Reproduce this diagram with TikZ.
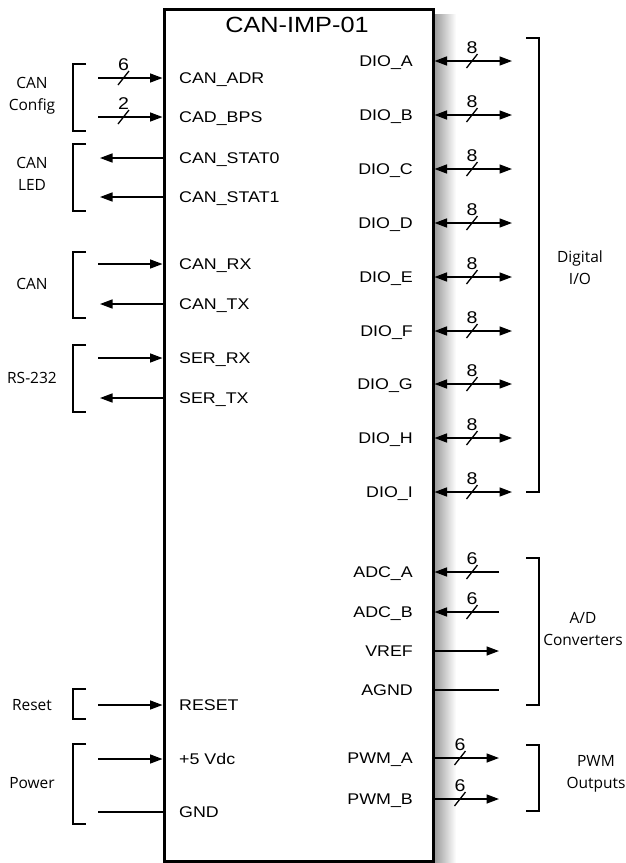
\documentclass[tikz,border=0pt]{standalone}
\usepackage{fontspec}
\setmainfont{Liberation Sans}
\newfontfamily\pinfont{Liberation Sans}[FakeStretch=1.15]
\newfontfamily\grpfont{Open Sans}
\usetikzlibrary{arrows.meta,calc}
\tikzset{
  pin/.style={font=\pinfont\fontsize{15.5}{18}\selectfont, inner sep=0pt},
  grp/.style={font=\grpfont\fontsize{15.5}{22}\selectfont, inner sep=0pt, align=center},
  num/.style={font=\pinfont\fontsize{17}{18}\selectfont, inner sep=0pt, anchor=base},
  sig/.style={line width=1.5pt},
  tip/.style={-{Triangle[length=12.5pt,width=9pt]}},
  btip/.style={{Triangle[length=12.5pt,width=9pt]}-{Triangle[length=12.5pt,width=9pt]}},
  brk/.style={line width=1.3pt},
  slash/.style={line width=1.3pt}
}
\newcommand\busslash[3]{% name, x offset, label
  \draw[slash] ($(#1)+(#2-5.5,7)$) -- ($(#1)+(#2+5.5,-7)$);
  \node[num] (#1n) at ($(#1)+(#2,-8)$) {#3};
}
\begin{document}
\begin{tikzpicture}[x=1pt,y=-1pt]
\useasboundingbox (0,0) rectangle (626,863);
% shadow
\shade[left color=black!40, right color=white] (434,14) rectangle (456,863);
% box
\node[draw, line width=3pt, minimum width=269pt, minimum height=852pt, inner sep=0pt, fill=white] (box) at (298.5,435) {};
\node[font=\pinfont\fontsize{22}{24}\selectfont, inner sep=0pt, anchor=base] (title) at (297,32.5) {CAN-IMP-01};

% ---------- left side ----------
\coordinate (adr) at (98,78);
\coordinate (bps) at (98,117);
\coordinate (st0) at (100,158);
\coordinate (st1) at (100,197);
\coordinate (crx) at (98,264);
\coordinate (ctx) at (100,304);
\coordinate (srx) at (98,358);
\coordinate (stx) at (100,398);
\coordinate (rst) at (98,705);
\coordinate (vcc) at (98,759);
\coordinate (gnd) at (98,812);

\draw[sig,tip] (adr) -- (adr -| box.west);
\draw[sig,tip] (bps) -- (bps -| box.west);
\draw[sig,tip] (st0 -| box.west) -- (st0);
\draw[sig,tip] (st1 -| box.west) -- (st1);
\draw[sig,tip] (crx) -- (crx -| box.west);
\draw[sig,tip] (ctx -| box.west) -- (ctx);
\draw[sig,tip] (srx) -- (srx -| box.west);
\draw[sig,tip] (stx -| box.west) -- (stx);
\draw[sig,tip] (rst) -- (rst -| box.west);
\draw[sig,tip] (vcc) -- (vcc -| box.west);
\draw[sig] (gnd) -- (gnd -| box.west);

\busslash{adr}{25.5}{6}
\busslash{bps}{25.5}{2}

\node[pin, anchor=base west] (Ladr) at ($(adr)+(81,5.5)$) {CAN\_ADR};
\node[pin, anchor=base west] (Lbps) at ($(bps)+(81,5.5)$) {CAD\_BPS};
\node[pin, anchor=base west] (Lst0) at ($(st0)+(79,5.5)$) {CAN\_STAT0};
\node[pin, anchor=base west] (Lst1) at ($(st1)+(79,5.5)$) {CAN\_STAT1};
\node[pin, anchor=base west] (Lcrx) at ($(crx)+(81,5.5)$) {CAN\_RX};
\node[pin, anchor=base west] (Lctx) at ($(ctx)+(79,5.5)$) {CAN\_TX};
\node[pin, anchor=base west] (Lsrx) at ($(srx)+(81,5.5)$) {SER\_RX};
\node[pin, anchor=base west] (Lstx) at ($(stx)+(79,5.5)$) {SER\_TX};
\node[pin, anchor=base west] (Lrst) at ($(rst)+(81,5.5)$) {RESET};
\node[pin, anchor=base west] (Lvcc) at ($(vcc)+(81,5.5)$) {+5 Vdc};
\node[pin, anchor=base west] (Lgnd) at ($(gnd)+(81,5.5)$) {GND};

% left brackets
\draw[brk] (86,64) -- (73,64) -- (73,131) -- (86,131);
\draw[brk] (86,144) -- (73,144) -- (73,211) -- (86,211);
\draw[brk] (86,252) -- (73,252) -- (73,318) -- (86,318);
\draw[brk] (86,345) -- (73,345) -- (73,412) -- (86,412);
\draw[brk] (86,689) -- (73,689) -- (73,719) -- (86,719);
\draw[brk] (86,744) -- (73,744) -- (73,824) -- (86,824);

\node[grp] (gcfg) at (32,96) {CAN\\Config};
\node[grp] (gled) at (32,174) {CAN\\LED};
\node[grp] (gcan) at (32,284) {CAN};
\node[grp] (grs) at (32,378) {RS-232};
\node[grp] (grst) at (32,705) {Reset};
\node[grp] (gpwr) at (32,783) {Power};

% ---------- right side ----------
\foreach \n/\y in {A/61,B/115,C/169,D/223,E/277,F/331,G/384,H/438,I/492}{
  \coordinate (dio\n) at (512,\y);
  \draw[sig,btip] (dio\n -| box.east) -- (dio\n);
  \busslash{dio\n}{-40}{8}
  \node[pin, anchor=base east] (Ldio\n) at ($(dio\n)+(-99,5.5)$) {DIO\_\n};
}

\coordinate (adca) at (499,572);
\coordinate (adcb) at (499,612);
\coordinate (vref) at (499,651);
\coordinate (agnd) at (499,690);
\coordinate (pwma) at (499,758);
\coordinate (pwmb) at (499,799);

\draw[sig,tip] (adca) -- (adca -| box.east);
\draw[sig,tip] (adcb) -- (adcb -| box.east);
\draw[sig,tip] (vref -| box.east) -- (vref);
\draw[sig] (agnd -| box.east) -- (agnd);
\draw[sig,tip] (pwma -| box.east) -- (pwma);
\draw[sig,tip] (pwmb -| box.east) -- (pwmb);

\busslash{adca}{-27}{6}
\busslash{adcb}{-27}{6}
\busslash{pwma}{-39}{6}
\busslash{pwmb}{-39}{6}

\node[pin, anchor=base east] (Ladca) at ($(adca)+(-86,5.5)$) {ADC\_A};
\node[pin, anchor=base east] (Ladcb) at ($(adcb)+(-86,5.5)$) {ADC\_B};
\node[pin, anchor=base east] (Lvref) at ($(vref)+(-86,5.5)$) {VREF};
\node[pin, anchor=base east] (Lagnd) at ($(agnd)+(-86,5.5)$) {AGND};
\node[pin, anchor=base east] (Lpwma) at ($(pwma)+(-86,5.5)$) {PWM\_A};
\node[pin, anchor=base east] (Lpwmb) at ($(pwmb)+(-86,5.5)$) {PWM\_B};

% right brackets
\draw[brk] (526,38) -- (539,38) -- (539,492) -- (526,492);
\draw[brk] (526,558) -- (539,558) -- (539,705) -- (526,705);
\draw[brk] (526,745) -- (539,745) -- (539,811) -- (526,811);

\node[grp] (gdio) at (580,268) {Digital\\I/O};
\node[grp] (gadc) at (583,629) {A/D\\Converters};
\node[grp] (gpwm) at (596,774) {PWM\\Outputs};
\end{tikzpicture}
\end{document}
